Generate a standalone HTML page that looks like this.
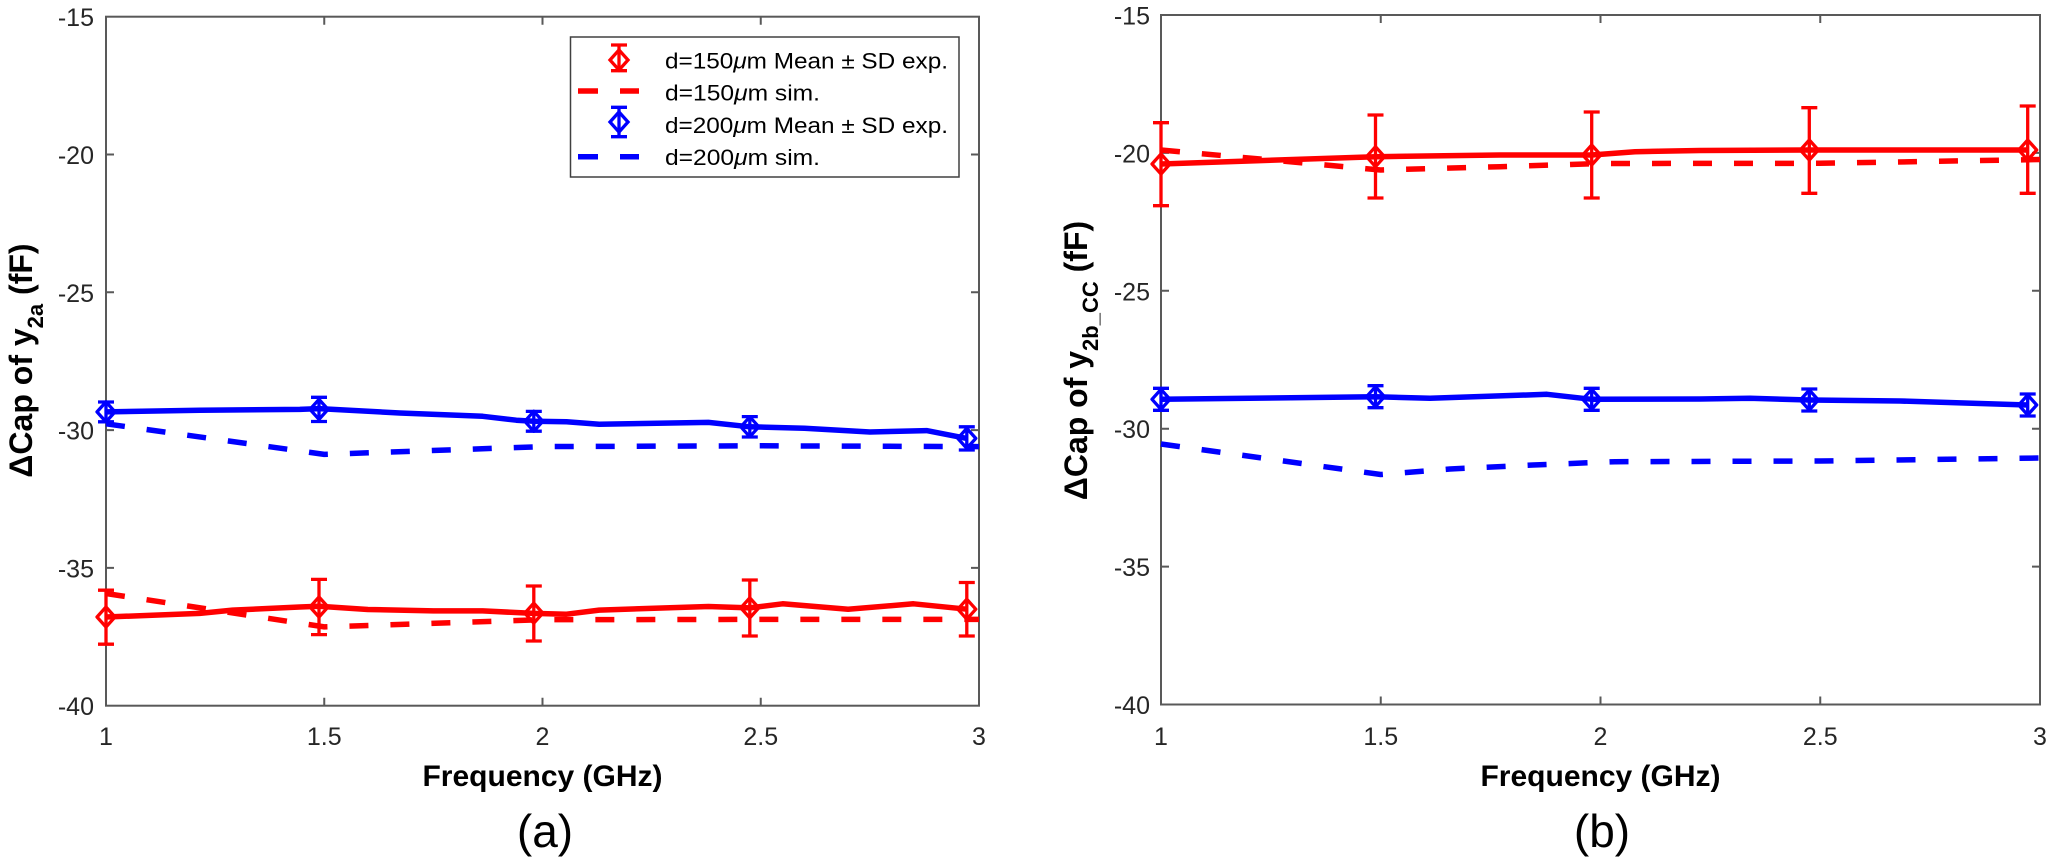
<!DOCTYPE html>
<html>
<head>
<meta charset="utf-8">
<style>
html,body{margin:0;padding:0;background:#fff;}
svg{display:block;}
text{font-family:"Liberation Sans",Arial,sans-serif;}
</style>
</head>
<body>
<svg width="2050" height="861" viewBox="0 0 2050 861" xmlns="http://www.w3.org/2000/svg">
<rect width="2050" height="861" fill="#fff"/>

<!-- ================= LEFT PLOT (a) ================= -->
<g fill="none" stroke="#595959" stroke-width="2">
  <rect x="106" y="16.7" width="873" height="689"/>
  <path d="M324.25 705.7v-8M542.5 705.7v-8M760.75 705.7v-8M324.25 16.7v8M542.5 16.7v8M760.75 16.7v8"/>
  <path d="M106 154.5h8M106 292.3h8M106 430.1h8M106 567.9h8M979 154.5h-8M979 292.3h-8M979 430.1h-8M979 567.9h-8"/>
</g>
<g font-size="25" fill="#262626" text-anchor="end">
  <text x="94" y="26.2">-15</text>
  <text x="94" y="164">-20</text>
  <text x="94" y="301.8">-25</text>
  <text x="94" y="439.6">-30</text>
  <text x="94" y="577.4">-35</text>
  <text x="94" y="715.2">-40</text>
</g>
<g font-size="25" fill="#262626" text-anchor="middle">
  <text x="106" y="745">1</text>
  <text x="324.25" y="745">1.5</text>
  <text x="542.5" y="745">2</text>
  <text x="760.75" y="745">2.5</text>
  <text x="979" y="745">3</text>
</g>
<text x="542.5" y="786" font-size="30" font-weight="bold" text-anchor="middle" fill="#000">Frequency (GHz)</text>
<text x="545" y="847" font-size="46" text-anchor="middle" fill="#000">(a)</text>
<text transform="translate(32,360.5) rotate(-90)" font-size="32" font-weight="bold" text-anchor="middle" fill="#000">ΔCap of y<tspan font-size="22" dy="11">2a</tspan><tspan dy="-11"> (fF)</tspan></text>

<!-- blue series (a) -->
<g fill="none" stroke="#0000ff" stroke-linejoin="round">
  <polyline stroke-width="5.5" points="106,411.9 199.8,410.3 299.8,409.4 319,408.6 399.8,413 482.7,416.3 516.3,420.2 533.8,421.3 566.5,421.8 599.2,424.3 708.4,422.4 749.8,426.8 804.4,428.2 869.9,432 926.6,430.6 966.8,438.4"/>
  <polyline stroke-width="5.5" stroke-dasharray="19 22" points="106,423.8 324.25,454.4 542.5,446.6 760.75,445.8 979,446.6"/>
  <g stroke-width="3.3">
    <path d="M106 402v19.8M98 402h16M98 421.8h16"/>
    <path d="M106 401.9l9 10l-9 10l-9 -10z"/>
    <path d="M319 397.3v24.2M311 397.3h16M311 421.5h16"/>
    <path d="M319 399.4l9 10l-9 10l-9 -10z"/>
    <path d="M533.8 411.4v19.8M525.8 411.4h16M525.8 431.2h16"/>
    <path d="M533.8 411.3l9 10l-9 10l-9 -10z"/>
    <path d="M749.8 416.6v20.4M741.8 416.6h16M741.8 437h16"/>
    <path d="M749.8 416.8l9 10l-9 10l-9 -10z"/>
    <path d="M966.8 426.8v23.2M958.8 426.8h16M958.8 450h16"/>
    <path d="M966.8 428.4l9 10l-9 10l-9 -10z"/>
  </g>
</g>

<!-- red series (a) -->
<g fill="none" stroke="#ff0000" stroke-linejoin="round">
  <polyline stroke-width="5.5" points="106,617 199.8,613.4 232.6,610.1 299.8,607 319,606.2 367.9,609.5 433.4,610.9 482.7,610.9 533.8,613.4 566.5,614.2 599.2,610.1 708.4,606.5 749.8,607.9 782.6,603.8 848.1,609.2 913.5,603.8 966.8,609.2"/>
  <polyline stroke-width="5.5" stroke-dasharray="19 22" points="106,593.5 324.25,626.9 542.5,619.7 760.75,619.4 979,619.4"/>
  <g stroke-width="3.3">
    <path d="M106 590.2v54M98 590.2h16M98 644.2h16"/>
    <path d="M106 607l9 10l-9 10l-9 -10z"/>
    <path d="M319 579.4v55.2M311 579.4h16M311 634.6h16"/>
    <path d="M319 597l9 10l-9 10l-9 -10z"/>
    <path d="M533.8 586v55M525.8 586h16M525.8 641h16"/>
    <path d="M533.8 603.1l9 10l-9 10l-9 -10z"/>
    <path d="M749.8 580v56M741.8 580h16M741.8 636h16"/>
    <path d="M749.8 597.9l9 10l-9 10l-9 -10z"/>
    <path d="M966.8 582.5v53.5M958.8 582.5h16M958.8 636h16"/>
    <path d="M966.8 599.2l9 10l-9 10l-9 -10z"/>
  </g>
</g>

<!-- legend -->
<rect x="570.5" y="37" width="388.5" height="140" fill="#fff" stroke="#404040" stroke-width="1.5"/>
<g fill="none" stroke-width="3.3">
  <g stroke="#ff0000">
    <path d="M619 45v25.7M611 45h16M611 70.7h16"/>
    <path d="M619 50l9 10l-9 10l-9 -10z"/>
  </g>
  <path d="M578 91h20M620 91h19" stroke="#ff0000" stroke-width="5.5"/>
  <g stroke="#0000ff">
    <path d="M619 107.3v29.4M611 107.3h16M611 136.7h16"/>
    <path d="M619 112l9 10l-9 10l-9 -10z"/>
  </g>
  <path d="M578 156.7h20M620 156.7h19" stroke="#0000ff" stroke-width="5.5"/>
</g>
<g font-size="22" fill="#000">
  <text x="665" y="68.5" textLength="283" lengthAdjust="spacingAndGlyphs">d=150<tspan font-style="italic">μ</tspan>m Mean ± SD exp.</text>
  <text x="665" y="100.5" textLength="155" lengthAdjust="spacingAndGlyphs">d=150<tspan font-style="italic">μ</tspan>m sim.</text>
  <text x="665" y="133" textLength="283" lengthAdjust="spacingAndGlyphs">d=200<tspan font-style="italic">μ</tspan>m Mean ± SD exp.</text>
  <text x="665" y="165" textLength="155" lengthAdjust="spacingAndGlyphs">d=200<tspan font-style="italic">μ</tspan>m sim.</text>
</g>

<!-- ================= RIGHT PLOT (b) ================= -->
<g fill="none" stroke="#595959" stroke-width="2">
  <rect x="1161" y="15" width="879" height="689.5"/>
  <path d="M1380.75 704.5v-8M1600.5 704.5v-8M1820.25 704.5v-8M1380.75 15v8M1600.5 15v8M1820.25 15v8"/>
  <path d="M1161 152.9h8M1161 290.8h8M1161 428.7h8M1161 566.6h8M2040 152.9h-8M2040 290.8h-8M2040 428.7h-8M2040 566.6h-8"/>
</g>
<g font-size="25" fill="#262626" text-anchor="end">
  <text x="1150" y="24.5">-15</text>
  <text x="1150" y="162.4">-20</text>
  <text x="1150" y="300.3">-25</text>
  <text x="1150" y="438.2">-30</text>
  <text x="1150" y="576.1">-35</text>
  <text x="1150" y="714">-40</text>
</g>
<g font-size="25" fill="#262626" text-anchor="middle">
  <text x="1161" y="745">1</text>
  <text x="1380.75" y="745">1.5</text>
  <text x="1600.5" y="745">2</text>
  <text x="1820.25" y="745">2.5</text>
  <text x="2040" y="745">3</text>
</g>
<text x="1600.5" y="786" font-size="30" font-weight="bold" text-anchor="middle" fill="#000">Frequency (GHz)</text>
<text x="1602" y="847" font-size="46" text-anchor="middle" fill="#000">(b)</text>
<text transform="translate(1087,360.5) rotate(-90)" font-size="32" font-weight="bold" text-anchor="middle" fill="#000">ΔCap of y<tspan font-size="22" dy="11">2b_CC</tspan><tspan dy="-11"> (fF)</tspan></text>

<!-- red series (b) -->
<g fill="none" stroke="#ff0000" stroke-linejoin="round">
  <polyline stroke-width="5.5" points="1161,164 1375.5,156.7 1500,155 1591.7,155 1635,151.7 1700,150.5 1809.3,150 2027.7,150"/>
  <polyline stroke-width="5.5" stroke-dasharray="19 22" points="1161,150 1380.75,170 1500,166.7 1600,163.5 1820,163.3 2040,159.5"/>
  <g stroke-width="3.3">
    <path d="M1161 122.7v83M1153 122.7h16M1153 205.7h16"/>
    <path d="M1161 154l9 10l-9 10l-9 -10z"/>
    <path d="M1375.5 115v83M1367.5 115h16M1367.5 198h16"/>
    <path d="M1375.5 146.7l9 10l-9 10l-9 -10z"/>
    <path d="M1591.7 112v86M1583.7 112h16M1583.7 198h16"/>
    <path d="M1591.7 145l9 10l-9 10l-9 -10z"/>
    <path d="M1809.3 107.7v85.6M1801.3 107.7h16M1801.3 193.3h16"/>
    <path d="M1809.3 140l9 10l-9 10l-9 -10z"/>
    <path d="M2027.7 106v87.3M2019.7 106h16M2019.7 193.3h16"/>
    <path d="M2027.7 140l9 10l-9 10l-9 -10z"/>
  </g>
</g>

<!-- blue series (b) -->
<g fill="none" stroke="#0000ff" stroke-linejoin="round">
  <polyline stroke-width="5.5" points="1161,399.3 1375.5,396.7 1430,398.3 1547,394.3 1591.7,399.3 1700,399 1750,398.3 1809.3,400 1900,401 2027.7,405"/>
  <polyline stroke-width="5.5" stroke-dasharray="19 22" points="1161,444 1380.75,474.5 1450,469 1533,465 1615,461.7 1820,461 2040,458"/>
  <g stroke-width="3.3">
    <path d="M1161 388.3v22M1153 388.3h16M1153 410.3h16"/>
    <path d="M1161 389.3l9 10l-9 10l-9 -10z"/>
    <path d="M1375.5 385.7v22M1367.5 385.7h16M1367.5 407.7h16"/>
    <path d="M1375.5 386.7l9 10l-9 10l-9 -10z"/>
    <path d="M1591.7 388.3v22M1583.7 388.3h16M1583.7 410.3h16"/>
    <path d="M1591.7 389.3l9 10l-9 10l-9 -10z"/>
    <path d="M1809.3 389v22M1801.3 389h16M1801.3 411h16"/>
    <path d="M1809.3 390l9 10l-9 10l-9 -10z"/>
    <path d="M2027.7 394v22M2019.7 394h16M2019.7 416h16"/>
    <path d="M2027.7 395l9 10l-9 10l-9 -10z"/>
  </g>
</g>
</svg>
</body>
</html>
